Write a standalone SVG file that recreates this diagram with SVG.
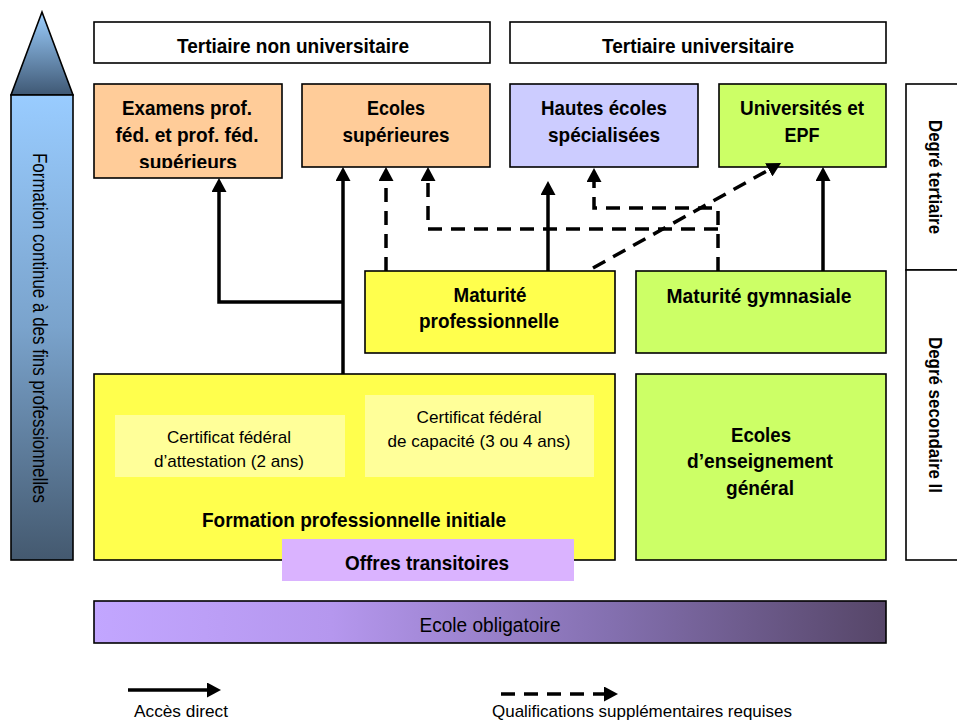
<svg xmlns="http://www.w3.org/2000/svg" width="957" height="722" viewBox="0 0 957 722">
<style>
text{font-family:"Liberation Sans",Arial,Helvetica,sans-serif;fill:#000;text-anchor:middle}
.b{font-weight:bold;font-size:21px}
.r{font-size:17px}
.box{stroke:#000;stroke-width:1.6}
.sol{fill:none;stroke:#000;stroke-width:3.5;marker-end:url(#ah)}
.dash{fill:none;stroke:#000;stroke-width:3.5;stroke-dasharray:14 9;marker-end:url(#ah)}
</style>
<defs>
<marker id="ah" markerUnits="userSpaceOnUse" viewBox="0 0 14 15" markerWidth="14" markerHeight="15" refX="3" refY="7.5" orient="auto">
<path d="M0,0 L14,7.5 L0,15 z" fill="#000"/>
</marker>
<linearGradient id="gTri" x1="0" y1="0" x2="0" y2="1">
<stop offset="0" stop-color="#9ccfff"/>
<stop offset="1" stop-color="#3f5874"/>
</linearGradient>
<linearGradient id="gBar" x1="0" y1="0" x2="0" y2="1">
<stop offset="0" stop-color="#99ccff"/>
<stop offset="0.5" stop-color="#7aa3cc"/>
<stop offset="1" stop-color="#44596f"/>
</linearGradient>
<linearGradient id="gOblig" x1="0" y1="0" x2="1" y2="0">
<stop offset="0" stop-color="#c2a6ff"/>
<stop offset="0.3" stop-color="#b597ee"/>
<stop offset="0.65" stop-color="#8470b0"/>
<stop offset="1" stop-color="#564668"/>
</linearGradient>
<clipPath id="clipEx"><rect x="94" y="84" width="188" height="84"/></clipPath>
</defs>

<g id="formation-continue">
<polygon points="42,12 73,95 11,95" fill="url(#gTri)" stroke="#000" stroke-width="1.6"/>
<rect x="11" y="95" width="62" height="465" fill="url(#gBar)" class="box"/>
<text class="r" style="font-size:21px" textLength="350" lengthAdjust="spacingAndGlyphs" transform="translate(33,328) rotate(90)">Formation continue à des fins professionnelles</text>
</g>

<g id="hdr-non-univ">
<rect x="94" y="22" width="396" height="41" fill="#fff" class="box"/>
<text class="b" x="293" y="53" textLength="232" lengthAdjust="spacingAndGlyphs">Tertiaire non universitaire</text>
</g>
<g id="hdr-univ">
<rect x="510" y="22" width="376" height="41" fill="#fff" class="box"/>
<text class="b" x="698" y="53" textLength="192" lengthAdjust="spacingAndGlyphs">Tertiaire universitaire</text>
</g>

<g id="examens">
<rect x="94" y="84" width="188" height="94" fill="#ffcc99" class="box"/>
<g clip-path="url(#clipEx)">
<text class="b" x="187" y="115" textLength="130" lengthAdjust="spacingAndGlyphs">Examens prof.</text>
<text class="b" x="187" y="142" textLength="143" lengthAdjust="spacingAndGlyphs">féd. et prof. féd.</text>
<text class="b" x="188" y="169" textLength="98" lengthAdjust="spacingAndGlyphs">supérieurs</text>
</g>
</g>
<g id="ecoles-sup">
<rect x="302" y="84" width="188" height="83" fill="#ffcc99" class="box"/>
<text class="b" x="396" y="115" textLength="58" lengthAdjust="spacingAndGlyphs">Ecoles</text>
<text class="b" x="396" y="142" textLength="107" lengthAdjust="spacingAndGlyphs">supérieures</text>
</g>
<g id="hautes-ecoles">
<rect x="510" y="84" width="188" height="83" fill="#ccccff" class="box"/>
<text class="b" x="604" y="115" textLength="126" lengthAdjust="spacingAndGlyphs">Hautes écoles</text>
<text class="b" x="604" y="142" textLength="112" lengthAdjust="spacingAndGlyphs">spécialisées</text>
</g>
<g id="universites">
<rect x="719" y="84" width="167" height="83" fill="#ccff66" class="box"/>
<text class="b" x="802" y="115" textLength="124" lengthAdjust="spacingAndGlyphs">Universités et</text>
<text class="b" x="802" y="142" textLength="35" lengthAdjust="spacingAndGlyphs">EPF</text>
</g>

<g id="degre-tertiaire">
<rect x="906" y="84" width="70" height="186" fill="#fff" class="box"/>
<text class="b" style="font-size:19px" textLength="114" lengthAdjust="spacingAndGlyphs" transform="translate(929,177) rotate(90)">Degré tertiaire</text>
</g>
<g id="degre-secondaire">
<rect x="906" y="270" width="70" height="290" fill="#fff" class="box"/>
<text class="b" style="font-size:19px" textLength="156" lengthAdjust="spacingAndGlyphs" transform="translate(929,415) rotate(90)">Degré secondaire II</text>
</g>

<g id="maturite-pro">
<rect x="365" y="271" width="250" height="82" fill="#ffff4d" class="box"/>
<text class="b" x="490" y="302" textLength="73" lengthAdjust="spacingAndGlyphs">Maturité</text>
<text class="b" x="489" y="328" textLength="140" lengthAdjust="spacingAndGlyphs">professionnelle</text>
</g>
<g id="maturite-gym">
<rect x="636" y="271" width="250" height="82" fill="#ccff66" class="box"/>
<text class="b" x="759" y="303" textLength="185" lengthAdjust="spacingAndGlyphs">Maturité gymnasiale</text>
</g>

<g id="formation-initiale">
<rect x="94" y="374" width="521" height="186" fill="#ffff4d" class="box"/>
<text class="b" x="354" y="527" textLength="304" lengthAdjust="spacingAndGlyphs">Formation professionnelle initiale</text>
</g>
<g id="cfa">
<rect x="115" y="415" width="230" height="62" fill="#ffff99"/>
<text class="r" x="229" y="443" textLength="124" lengthAdjust="spacingAndGlyphs">Certificat fédéral</text>
<text class="r" x="229" y="467" textLength="150" lengthAdjust="spacingAndGlyphs">d’attestation (2 ans)</text>
</g>
<g id="cfc">
<rect x="365" y="395" width="229" height="82" fill="#ffff99"/>
<text class="r" x="479" y="423" textLength="125" lengthAdjust="spacingAndGlyphs">Certificat fédéral</text>
<text class="r" x="479" y="447" textLength="183" lengthAdjust="spacingAndGlyphs">de capacité (3 ou 4 ans)</text>
</g>
<g id="offres">
<rect x="282" y="539" width="292" height="42" fill="#dab3ff"/>
<text class="b" x="427" y="570" textLength="164" lengthAdjust="spacingAndGlyphs">Offres transitoires</text>
</g>

<g id="ecoles-gen">
<rect x="636" y="374" width="250" height="186" fill="#ccff66" class="box"/>
<text class="b" x="761" y="442" textLength="60" lengthAdjust="spacingAndGlyphs">Ecoles</text>
<text class="b" x="760" y="468" textLength="146" lengthAdjust="spacingAndGlyphs">d’enseignement</text>
<text class="b" x="760" y="495" textLength="68" lengthAdjust="spacingAndGlyphs">général</text>
</g>

<g id="ecole-obligatoire">
<rect x="94" y="601" width="792" height="42" fill="url(#gOblig)" class="box"/>
<text x="490" y="632" style="font-size:20px" textLength="141" lengthAdjust="spacingAndGlyphs">Ecole obligatoire</text>
</g>

<g id="connectors">
<path class="sol" d="M343,374 V178"/>
<path class="sol" d="M343,302 H219 V189"/>
<path class="dash" d="M386,271 V178"/>
<path class="dash" d="M718,271 V208 H594 V179"/>
<path class="dash" d="M718,229 H428 V178"/>
<path class="sol" d="M548,271 V192"/>
<path class="dash" d="M593,268 L771.4,168.4"/>
<path class="sol" d="M823,271 V178"/>
</g>

<g id="legend">
<path class="sol" d="M128,690 H210"/>
<text class="r" x="181" y="717" textLength="94" lengthAdjust="spacingAndGlyphs">Accès direct</text>
<path class="dash" d="M501,694 H607"/>
<text class="r" x="642" y="717" textLength="300" lengthAdjust="spacingAndGlyphs">Qualifications supplémentaires requises</text>
</g>
</svg>
